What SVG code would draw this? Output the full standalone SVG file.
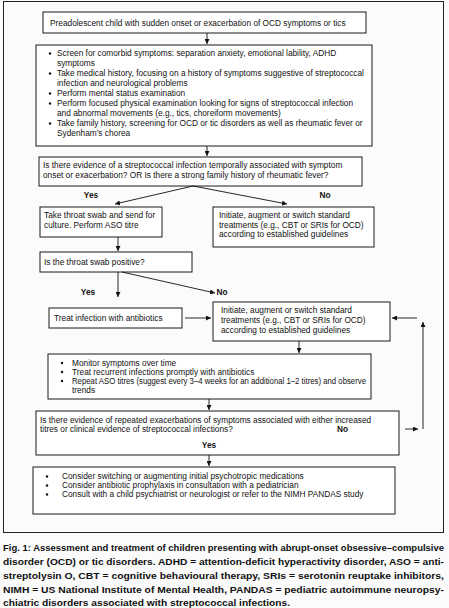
<svg xmlns="http://www.w3.org/2000/svg" width="449" height="608" viewBox="0 0 449 608">
<style>
.bg{fill:#fbfbfb}
.box{fill:#ffffff;stroke:#1a1a1a;stroke-width:1}
.frame{fill:none;stroke:#222;stroke-width:1}
text{font-family:"Liberation Sans",Arial,sans-serif;font-size:8.3px;fill:#111}
.b{font-weight:bold}
.cap{font-family:"Liberation Sans",Arial,sans-serif;font-size:9px;font-weight:bold;fill:#111}
.ln{stroke:#111;stroke-width:0.9;fill:none}
.dot{fill:#111}
</style>
<defs>
<marker id="ah" viewBox="0 0 8 8" refX="8" refY="4" markerWidth="5" markerHeight="5" orient="auto" markerUnits="userSpaceOnUse">
<path d="M0,0 L8,4 L0,8 Z" fill="#111"/>
</marker>
</defs>
<rect class="bg" x="0" y="0" width="449" height="608"/>
<rect class="frame" x="3.5" y="1.5" width="440" height="531"/>

<g id="n1">
<rect class="box" x="43" y="12" width="323" height="21"/>
<text x="50" y="25.5">Preadolescent child with sudden onset or exacerbation of OCD symptoms or tics</text>
</g>

<g id="n2">
<rect class="box" x="36" y="45" width="336" height="101"/>
<circle class="dot" cx="50" cy="53.5" r="1.2"/>
<circle class="dot" cx="50" cy="73.5" r="1.2"/>
<circle class="dot" cx="50" cy="93.5" r="1.2"/>
<circle class="dot" cx="50" cy="103.5" r="1.2"/>
<circle class="dot" cx="50" cy="123.5" r="1.2"/>
<text x="57" y="56">Screen for comorbid symptoms: separation anxiety, emotional lability, ADHD</text>
<text x="57" y="66">symptoms</text>
<text x="57" y="76">Take medical history, focusing on a history of symptoms suggestive of streptococcal</text>
<text x="57" y="86">infection and neurological problems</text>
<text x="57" y="96">Perform mental status examination</text>
<text x="57" y="106">Perform focused physical examination looking for signs of streptococcal infection</text>
<text x="57" y="116">and abnormal movements (e.g., tics, choreiform movements)</text>
<text x="57" y="126">Take family history, screening for OCD or tic disorders as well as rheumatic fever or</text>
<text x="57" y="136">Sydenham’s chorea</text>
</g>

<g id="n3">
<rect class="box" x="39" y="157" width="323" height="29"/>
<text x="43" y="168">Is there evidence of a streptococcal infection temporally associated with symptom</text>
<text x="43" y="178">onset or exacerbation? OR Is there a strong family history of rheumatic fever?</text>
</g>

<g id="n4">
<rect class="box" x="40" y="207" width="122" height="30"/>
<text x="44" y="218">Take throat swab and send for</text>
<text x="44" y="227.5">culture. Perform ASO titre</text>
</g>

<g id="n5">
<rect class="box" x="213" y="207" width="161" height="40"/>
<text x="219" y="218">Initiate, augment or switch standard</text>
<text x="219" y="227.5">treatments  (e.g., CBT or SRIs for OCD)</text>
<text x="219" y="237">according to established guidelines</text>
</g>

<g id="n6">
<rect class="box" x="40" y="252" width="152" height="20"/>
<text x="44" y="264.5">Is the throat swab positive?</text>
</g>

<g id="n7">
<rect class="box" x="49" y="308" width="133" height="20"/>
<text x="54" y="320.5">Treat infection with antibiotics</text>
</g>

<g id="n8">
<rect class="box" x="213" y="302" width="177" height="39"/>
<text x="221" y="313">Initiate, augment or switch standard</text>
<text x="221" y="323">treatments  (e.g., CBT or SRIs for OCD)</text>
<text x="221" y="333">according to established guidelines</text>
</g>

<g id="n9">
<rect class="box" x="48" y="354" width="323" height="45"/>
<circle class="dot" cx="62" cy="363" r="1.2"/>
<circle class="dot" cx="62" cy="372" r="1.2"/>
<circle class="dot" cx="62" cy="381" r="1.2"/>
<text x="72" y="365.5">Monitor symptoms over time</text>
<text x="72" y="374.5">Treat recurrent infections promptly with antibiotics</text>
<text x="72" y="383.5" textLength="294" lengthAdjust="spacingAndGlyphs">Repeat ASO titres (suggest every 3–4 weeks for an additional 1–2 titres) and observe</text>
<text x="72" y="392.5">trends</text>
</g>

<g id="n10">
<rect class="box" x="36" y="411" width="363" height="44"/>
<text x="40" y="422.5">Is there evidence of repeated exacerbations of symptoms associated with either increased</text>
<text x="40" y="432">titres or clinical evidence of streptococcal infections?</text>
<text class="b" x="337" y="432">No</text>
<text class="b" x="209" y="448" text-anchor="middle">Yes</text>
</g>

<g id="n11">
<rect class="box" x="33" y="467" width="362" height="47"/>
<circle class="dot" cx="47" cy="476.5" r="1.2"/>
<circle class="dot" cx="47" cy="485.5" r="1.2"/>
<circle class="dot" cx="47" cy="494.5" r="1.2"/>
<text x="62" y="479">Consider switching or augmenting initial psychotropic medications</text>
<text x="62" y="488">Consider antibiotic prophylaxis in consultation with a pediatrician</text>
<text x="62" y="497">Consult with a child psychiatrist or neurologist or refer to the NIMH PANDAS study</text>
</g>

<g id="labels">
<text class="b" x="91" y="198" text-anchor="middle">Yes</text>
<text class="b" x="325" y="198" text-anchor="middle">No</text>
<text class="b" x="88" y="295" text-anchor="middle">Yes</text>
<text class="b" x="222" y="295" text-anchor="middle">No</text>
</g>

<g id="connectors">
<line class="ln" x1="207" y1="33" x2="207" y2="44" marker-end="url(#ah)"/>
<line class="ln" x1="207" y1="146" x2="207" y2="156" marker-end="url(#ah)"/>
<line class="ln" x1="193" y1="186" x2="115" y2="204" marker-end="url(#ah)"/>
<line class="ln" x1="193" y1="186" x2="287" y2="204" marker-end="url(#ah)"/>
<line class="ln" x1="118" y1="237" x2="118" y2="251" marker-end="url(#ah)"/>
<line class="ln" x1="118" y1="272" x2="118" y2="297" marker-end="url(#ah)"/>
<line class="ln" x1="122" y1="272" x2="215" y2="293" marker-end="url(#ah)"/>
<line class="ln" x1="185" y1="318" x2="211" y2="318" marker-end="url(#ah)"/>
<line class="ln" x1="417" y1="318" x2="392" y2="318" marker-end="url(#ah)"/>
<line class="ln" x1="423" y1="429" x2="423" y2="322" marker-end="url(#ah)"/>
<line class="ln" x1="405" y1="429" x2="418" y2="429" marker-end="url(#ah)"/>
<line class="ln" x1="299" y1="341" x2="299" y2="353" marker-end="url(#ah)"/>
<line class="ln" x1="209" y1="399" x2="209" y2="410" marker-end="url(#ah)"/>
<line class="ln" x1="209" y1="455" x2="209" y2="466" marker-end="url(#ah)"/>
</g>

<g id="caption">
<text class="cap" x="3" y="551" textLength="441" lengthAdjust="spacingAndGlyphs">Fig. 1: Assessment and treatment of children presenting with abrupt-onset obsessive–compulsive</text>
<text class="cap" x="3" y="565" textLength="441" lengthAdjust="spacingAndGlyphs">disorder (OCD) or tic disorders. ADHD = attention-deficit hyperactivity disorder, ASO = anti-</text>
<text class="cap" x="3" y="579" textLength="441" lengthAdjust="spacingAndGlyphs">streptolysin O, CBT = cognitive behavioural therapy, SRIs = serotonin reuptake inhibitors,</text>
<text class="cap" x="3" y="593" textLength="441" lengthAdjust="spacingAndGlyphs">NIMH = US National Institute of Mental Health, PANDAS = pediatric autoimmune neuropsy-</text>
<text class="cap" x="3" y="606" textLength="287" lengthAdjust="spacingAndGlyphs">chiatric disorders associated with streptococcal infections.</text>
</g>
</svg>
